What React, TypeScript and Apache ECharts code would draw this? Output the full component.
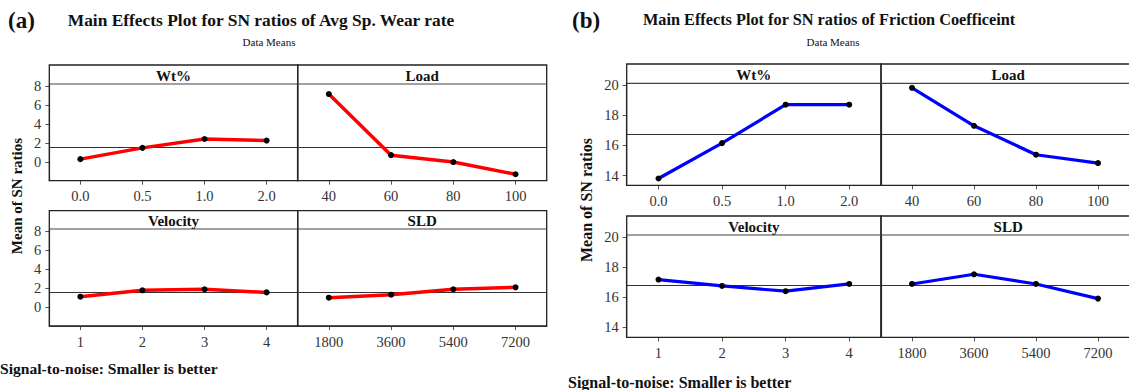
import React, { useEffect, useRef } from "react";
import * as echarts from "echarts";

// ---- data ----
const WT_LEVELS = ["0.0", "0.5", "1.0", "2.0"];
const LOAD_LEVELS = ["40", "60", "80", "100"];
const VELOCITY_LEVELS = ["1", "2", "3", "4"];
const SLD_LEVELS = ["1800", "3600", "5400", "7200"];

const WEAR_WT = [0.28, 1.47, 2.41, 2.24];
const WEAR_LOAD = [7.16, 0.7, -0.03, -1.32];
const WEAR_VELOCITY = [1.09, 1.76, 1.86, 1.54];
const WEAR_SLD = [0.98, 1.3, 1.86, 2.07];
const WEAR_GRAND_MEAN = 1.51;
const WEAR_TICKS = [0, 2, 4, 6, 8];

const FRIC_WT = [13.8, 16.15, 18.7, 18.7];
const FRIC_LOAD = [19.82, 17.3, 15.38, 14.82];
const FRIC_VELOCITY = [17.17, 16.75, 16.4, 16.88];
const FRIC_SLD = [16.88, 17.52, 16.88, 15.91];
const FRIC_GRAND_MEAN = 16.77;
const FRIC_TICKS = [14, 16, 18, 20];

const FACTORS = ["Wt%", "Load", "Velocity", "SLD"];

const SERIF = "'Liberation Serif', 'DejaVu Serif', serif";

type Panel = {
  x: number;
  w: number;
  frameTop: number;
  plotTop: number;
  plotBottom: number;
  cats: string[];
  values: number[];
  title: string;
  showY: boolean;
  min: number;
  max: number;
  ticks: number[];
  mean: number;
  color: string;
  width: number;
};

export default function App() {
  const ref = useRef<HTMLDivElement>(null);

  useEffect(() => {
    if (!ref.current) return;
    const chart = echarts.init(ref.current, undefined, { renderer: "svg" });

    const aCols = [
      { x: 49.3, w: 248.4 },
      { x: 297.7, w: 249 },
    ];
    const aRows = [
      { frameTop: 65, plotTop: 84, plotBottom: 180.7 },
      { frameTop: 210.7, plotTop: 229, plotBottom: 326 },
    ];
    const bCols = [
      { x: 626.7, w: 254.3 },
      { x: 881, w: 254.3 },
    ];
    const bRows = [
      { frameTop: 64, plotTop: 83.3, plotBottom: 185.3 },
      { frameTop: 216, plotTop: 235, plotBottom: 337.3 },
    ];

    const catsList = [WT_LEVELS, LOAD_LEVELS, VELOCITY_LEVELS, SLD_LEVELS];
    const wearVals = [WEAR_WT, WEAR_LOAD, WEAR_VELOCITY, WEAR_SLD];
    const fricVals = [FRIC_WT, FRIC_LOAD, FRIC_VELOCITY, FRIC_SLD];

    const panels: Panel[] = [];
    for (let i = 0; i < 4; i++) {
      const c = aCols[i % 2];
      const r = aRows[Math.floor(i / 2)];
      panels.push({
        ...c,
        ...r,
        cats: catsList[i],
        values: wearVals[i],
        title: FACTORS[i],
        showY: i % 2 === 0,
        min: -2,
        max: 8.22,
        ticks: WEAR_TICKS,
        mean: WEAR_GRAND_MEAN,
        color: "#ff0000",
        width: 3.5,
      });
    }
    for (let i = 0; i < 4; i++) {
      const c = bCols[i % 2];
      const r = bRows[Math.floor(i / 2)];
      panels.push({
        ...c,
        ...r,
        cats: catsList[i],
        values: fricVals[i],
        title: FACTORS[i],
        showY: i % 2 === 0,
        min: 13.35,
        max: 20.12,
        ticks: FRIC_TICKS,
        mean: FRIC_GRAND_MEAN,
        color: "#0000ff",
        width: 3.2,
      });
    }

    const grid = panels.map((p) => ({
      left: p.x,
      top: p.plotTop,
      width: p.w,
      height: p.plotBottom - p.plotTop,
      containLabel: false,
    }));

    const xAxis = panels.map((p, i) => ({
      type: "category",
      gridIndex: i,
      data: p.cats,
      boundaryGap: true,
      axisLine: { show: true, onZero: false, lineStyle: { color: "#555", width: 1.2 } },
      axisTick: { show: true, alignWithLabel: true, length: 4, lineStyle: { color: "#555" } },
      axisLabel: {
        show: true,
        color: "#333",
        fontFamily: SERIF,
        fontSize: 14.5,
        margin: 8,
      },
      splitLine: { show: false },
    }));

    const yAxis = panels.map((p, i) => ({
      type: "value",
      gridIndex: i,
      min: p.min,
      max: p.max,
      axisLine: { show: true, onZero: false, lineStyle: { color: "#555", width: 1.2 } },
      axisTick: {
        show: p.showY,
        length: 4,
        customValues: p.ticks,
        lineStyle: { color: "#555" },
      },
      axisLabel: {
        show: p.showY,
        customValues: p.ticks,
        color: "#333",
        fontFamily: SERIF,
        fontSize: 14.5,
        margin: 8,
      },
      splitLine: { show: false },
    }));

    const series = panels.map((p, i) => ({
      type: "line",
      xAxisIndex: i,
      yAxisIndex: i,
      data: p.values,
      symbol: "circle",
      symbolSize: 6,
      itemStyle: { color: "#000" },
      lineStyle: { color: p.color, width: p.width },
      z: 3,
      markLine: {
        silent: true,
        symbol: "none",
        label: { show: false },
        lineStyle: { color: "#333", width: 1, type: "solid" },
        data: [{ yAxis: p.mean }],
        z: 2,
      },
    }));

    const graphic: any[] = [];
    panels.forEach((p) => {
      graphic.push({
        type: "rect",
        shape: { x: p.x, y: p.frameTop, width: p.w, height: p.plotBottom - p.frameTop },
        style: { fill: "none", stroke: "#222", lineWidth: 1.3 },
        z: 10,
      });
      graphic.push({
        type: "line",
        shape: { x1: p.x, y1: p.plotTop, x2: p.x + p.w, y2: p.plotTop },
        style: { stroke: "#444", lineWidth: 1.2 },
        z: 10,
      });
      graphic.push({
        type: "text",
        x: p.x + p.w / 2,
        y: (p.frameTop + p.plotTop) / 2 + 1,
        style: {
          text: p.title,
          font: `bold 15px ${SERIF}`,
          fill: "#111",
          align: "center",
          verticalAlign: "middle",
          textAlign: "center",
          textVerticalAlign: "middle",
        },
        z: 11,
      });
    });

    const txt = (
      text: string,
      x: number,
      y: number,
      font: string,
      align: string = "left",
      rotation = 0
    ) => ({
      type: "text",
      x,
      y,
      rotation,
      style: {
        text,
        font,
        fill: "#111",
        align,
        verticalAlign: "middle",
        textAlign: align,
        textVerticalAlign: "middle",
      },
      z: 12,
    });

    graphic.push(txt("(a)", 8, 20, `bold 23px ${SERIF}`));
    graphic.push(txt("Main Effects Plot for SN ratios of Avg Sp. Wear rate", 261, 20, `bold 17.4px ${SERIF}`, "center"));
    graphic.push(txt("Data Means", 269, 42, `11px ${SERIF}`, "center"));
    graphic.push(txt("Mean of SN ratios", 17, 196, `bold 15px ${SERIF}`, "center", Math.PI / 2));
    graphic.push(txt("Signal-to-noise: Smaller is better", 0, 368, `bold 15.6px ${SERIF}`));

    graphic.push(txt("(b)", 572, 20, `bold 23px ${SERIF}`));
    graphic.push(txt("Main Effects Plot for SN ratios of Friction Coefficeint", 829, 19, `bold 16.3px ${SERIF}`, "center"));
    graphic.push(txt("Data Means", 833, 42, `11px ${SERIF}`, "center"));
    graphic.push(txt("Mean of SN ratios", 586, 200, `bold 16px ${SERIF}`, "center", Math.PI / 2));
    graphic.push(txt("Signal-to-noise: Smaller is better", 568, 382, `bold 16px ${SERIF}`));

    chart.setOption({
      animation: false,
      backgroundColor: "#ffffff",
      grid,
      xAxis,
      yAxis,
      series,
      graphic,
    } as any);

    return () => chart.dispose();
  }, []);

  return (
    <div
      ref={ref}
      style={{ position: "absolute", left: 0, top: 0, width: 1129, height: 390 }}
    />
  );
}
